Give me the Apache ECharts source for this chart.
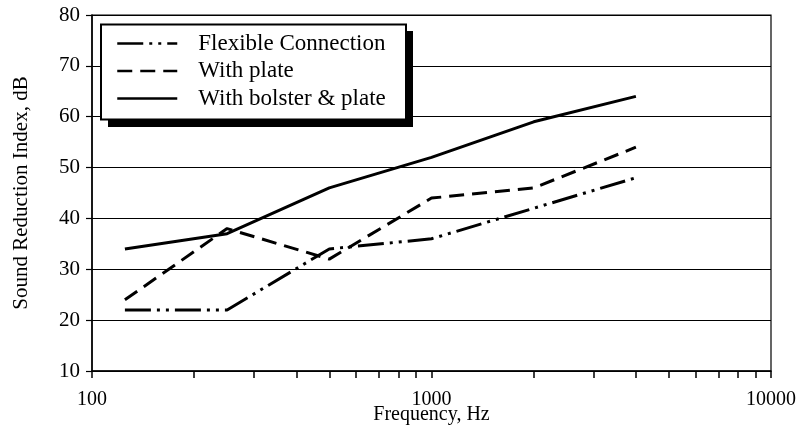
<!DOCTYPE html>
<html>
<head>
<meta charset="utf-8">
<script src="https://cdn.jsdelivr.net/npm/echarts@6/dist/echarts.min.js"></script>
<style>html,body{margin:0;padding:0;background:#fff}#c{width:799px;height:429px}</style>
</head>
<body>
<div id="c"></div>
<script>
var frequencies = [125, 250, 500, 1000, 2000, 4000];
var flexibleConnection = [22, 22, 34, 36, 42, 48];
var withPlate = [24, 38, 32, 44, 46, 54];
var withBolsterPlate = [34, 37, 46, 52, 59, 64];
var seriesNames = ['Flexible Connection', 'With plate', 'With bolster & plate'];
var xLabelValues = [100, 1000, 10000];
var xTickValues = [100,200,300,400,500,600,700,800,900,1000,2000,3000,4000,5000,6000,7000,8000,9000,10000];
var yTicks = {min: 10, max: 80, interval: 10};

function pairs(ys) { return frequencies.map(function (f, i) { return [f, ys[i]]; }); }
var FONT = 'Liberation Serif';
var chart = echarts.init(document.getElementById('c'), null, {renderer: 'canvas'});
chart.setOption({
  animation: false,
  backgroundColor: '#fff',
  textStyle: {fontFamily: FONT, color: '#000'},
  grid: {left: 92, right: 28, top: 15, bottom: 58, show: true, borderColor: '#000', borderWidth: 1.2,
         backgroundColor: 'transparent', outerBoundsMode: 'none', containLabel: false},
  graphic: [
    {type: 'rect', z: 10, silent: true, shape: {x: 108, y: 31, width: 305, height: 96}, style: {fill: '#000'}},
    {type: 'rect', z: 11, silent: true, shape: {x: 101, y: 24.5, width: 305, height: 95}, style: {fill: '#fff', stroke: '#000', lineWidth: 2}}
  ],
  xAxis: {
    type: 'log', logBase: 10, min: 100, max: 10000,
    name: 'Frequency, Hz', nameLocation: 'middle', nameGap: 34, nameMoveOverlap: false,
    nameTextStyle: {fontFamily: FONT, fontSize: 20, color: '#000'},
    axisLine: {show: true, lineStyle: {color: '#000', width: 1.5}},
    axisTick: {show: true, inside: false, length: 7, customValues: xTickValues, lineStyle: {color: '#000', width: 1.5}},
    axisLabel: {customValues: xLabelValues, margin: 19, fontFamily: FONT, fontSize: 20, color: '#000',
      formatter: function (v) { return String(Math.round(v)); }},
    splitLine: {show: false},
    minorTick: {show: false}
  },
  yAxis: {
    type: 'value', min: yTicks.min, max: yTicks.max, interval: yTicks.interval,
    name: 'Sound Reduction Index, dB', nameLocation: 'middle', nameGap: 60, nameRotate: 90, nameMoveOverlap: false,
    nameTextStyle: {fontFamily: FONT, fontSize: 21, color: '#000'},
    axisLine: {show: true, lineStyle: {color: '#000', width: 1.5}},
    axisTick: {show: true, inside: false, length: 6, lineStyle: {color: '#000', width: 1.2}},
    axisLabel: {margin: 12, fontFamily: FONT, fontSize: 21, color: '#000'},
    splitLine: {show: true, lineStyle: {color: '#000', width: 1.2}}
  },
  legend: {
    show: true, z: 12,
    orient: 'vertical', left: 101, top: 24,
    padding: [8, 22, 9, 15],
    itemWidth: 60, itemHeight: 22, itemGap: 4.5,
    backgroundColor: 'transparent', borderWidth: 0,
    itemStyle: {opacity: 0},
    lineStyle: {width: 2.5},
    textStyle: {fontFamily: FONT, fontSize: 23, lineHeight: 22, color: '#000', padding: [0, 0, 0, 16]},
    data: seriesNames
  },
  series: [
    {name: seriesNames[0], type: 'line', data: pairs(flexibleConnection), symbol: 'none',
     lineStyle: {color: '#000', width: 3, type: [26, 6, 3, 6, 3, 6]}, itemStyle: {color: '#000'}},
    {name: seriesNames[1], type: 'line', data: pairs(withPlate), symbol: 'none',
     lineStyle: {color: '#000', width: 3, type: [15, 8]}, itemStyle: {color: '#000'}},
    {name: seriesNames[2], type: 'line', data: pairs(withBolsterPlate), symbol: 'none',
     lineStyle: {color: '#000', width: 3, type: 'solid'}, itemStyle: {color: '#000'}}
  ]
});
</script>
</body>
</html>
